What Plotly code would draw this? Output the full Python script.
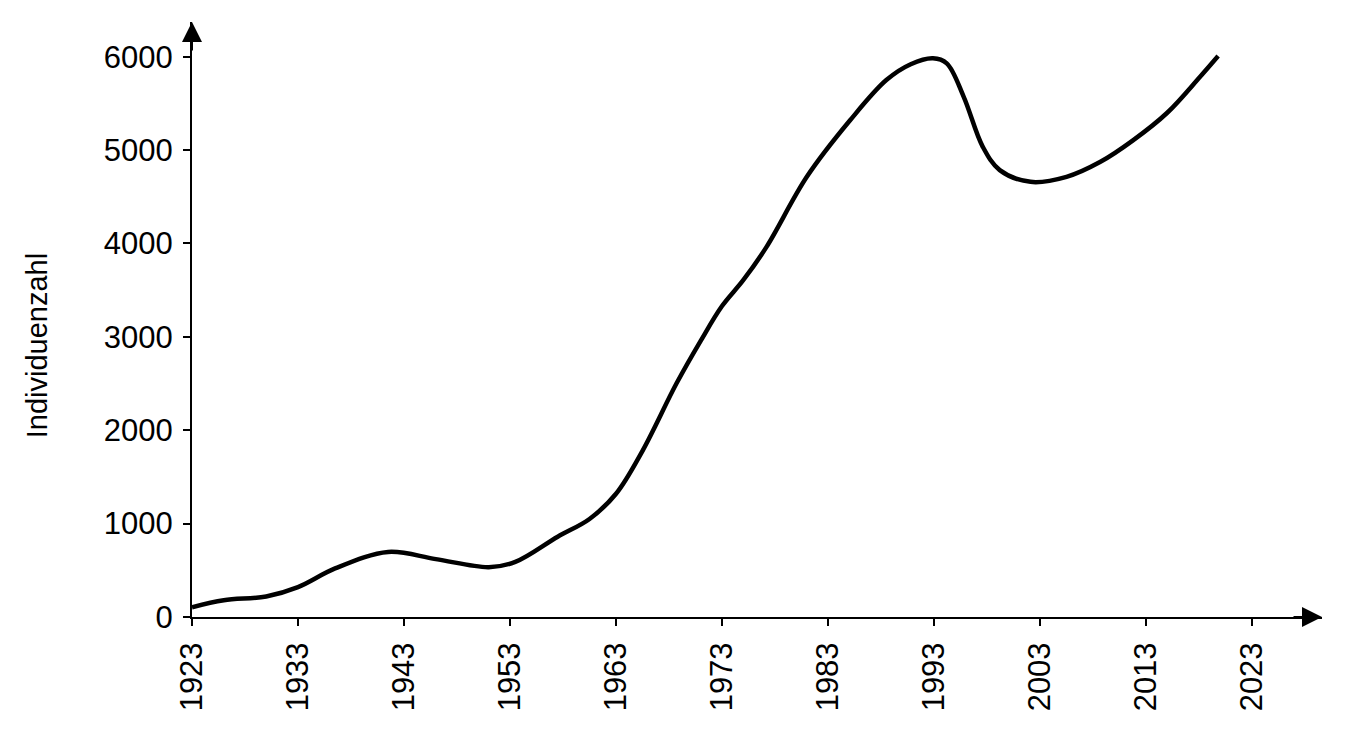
import plotly.graph_objects as go

# Jahr und Individuenzahl
jahre = [1923, 1926, 1930, 1933, 1936.5, 1941.5, 1946, 1951, 1953.5, 1957.5,
         1960.5, 1963, 1965.5, 1968.7, 1971, 1973, 1975, 1977.2, 1981, 1985.1,
         1988.5, 1990.8, 1992.9, 1994.2, 1995.8, 1997.6, 1999.2, 2002.1, 2005.5, 2008.7,
         2011.8, 2015, 2018.1, 2019.8]
individuen = [105, 180, 220, 320, 520, 697, 620, 534, 590, 860,
              1050, 1320, 1780, 2500, 2960, 3330, 3607, 3964, 4714, 5322,
              5750, 5920, 5983, 5929, 5571, 5035, 4786, 4660, 4714, 4875,
              5107, 5400, 5786, 6008]

x_ticks = [1923, 1933, 1943, 1953, 1963, 1973, 1983, 1993, 2003, 2013, 2023]
y_ticks = [0, 1000, 2000, 3000, 4000, 5000, 6000]

font_name = "Liberation Sans, Arial, sans-serif"

fig = go.Figure()
fig.add_trace(go.Scatter(x=jahre, y=individuen, mode="lines",
                         line=dict(color="black", width=4.5, shape="spline", smoothing=1),
                         showlegend=False, hoverinfo="skip"))

# die Seite hat 8px Rand, deshalb etwas kleiner als das Fenster
fig.update_layout(
    width=1330, height=719,
    margin=dict(l=184, r=16, t=14, b=110),
    paper_bgcolor="white", plot_bgcolor="white",
    font=dict(family=font_name, size=31, color="black"),
    xaxis=dict(range=[1923, 2029.6], tickvals=x_ticks, ticktext=[str(t) for t in x_ticks],
               tickangle=-90, ticks="outside", ticklen=7, tickwidth=2, tickcolor="black",
               showline=True, linewidth=2, linecolor="black", showgrid=False, zeroline=False,
               ticklabelstandoff=4, automargin=False),
    yaxis=dict(range=[0, 6372], tickvals=y_ticks, ticktext=[str(t) for t in y_ticks],
               ticks="outside", ticklen=7, tickwidth=2, tickcolor="black",
               showline=True, linewidth=2, linecolor="black", showgrid=False, zeroline=False,
               ticklabelstandoff=4, automargin=False),
)

# Pfeilspitzen an den Achsenenden
fig.add_annotation(x=1, y=0, xref="paper", yref="paper", ax=-30, ay=0,
                   text="", showarrow=True, arrowhead=2, arrowsize=2,
                   arrowwidth=2, arrowcolor="black")
fig.add_annotation(x=0, y=1, xref="paper", yref="paper", ax=0, ay=30,
                   text="", showarrow=True, arrowhead=2, arrowsize=2,
                   arrowwidth=2, arrowcolor="black")

# Achsentitel
fig.add_annotation(x=0, y=0.455, xref="paper", yref="paper", xshift=-155,
                   text="Individuenzahl", textangle=-90, showarrow=False,
                   xanchor="center", yanchor="middle",
                   font=dict(family=font_name, size=29, color="black"))

fig.write_html("out.html")
